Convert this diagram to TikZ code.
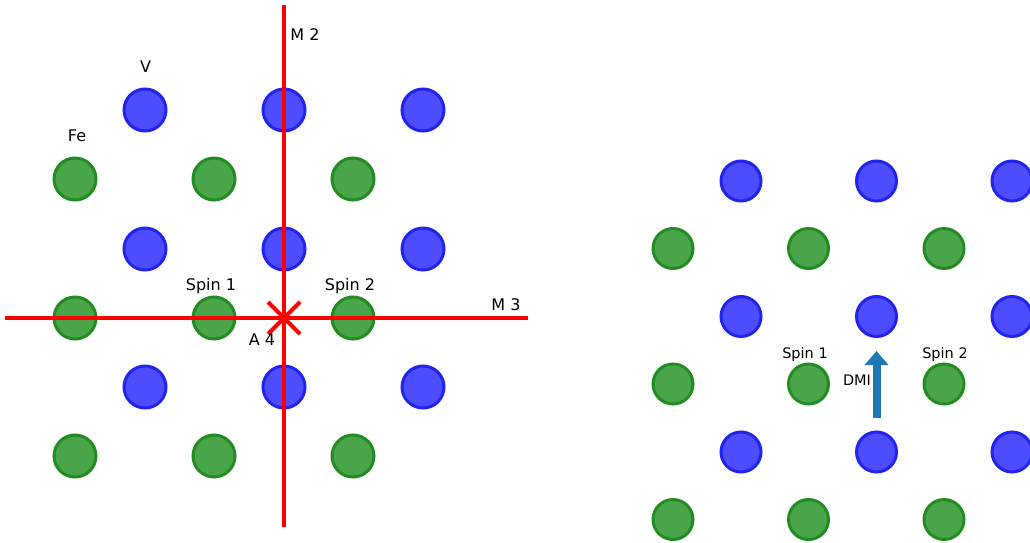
\documentclass[tikz,border=0pt]{standalone}
\usepackage{fontspec}
\setmainfont{DejaVu Sans}
\usetikzlibrary{arrows.meta}
\definecolor{vfill}{RGB}{77,77,255}
\definecolor{vedge}{RGB}{35,35,240}
\definecolor{ffill}{RGB}{74,165,74}
\definecolor{fedge}{RGB}{34,139,34}
\definecolor{dmiblue}{RGB}{31,119,180}
\tikzset{
  vatomL/.style={circle, draw=vedge, fill=vfill, line width=3pt, minimum size=42pt, inner sep=0pt},
  featomL/.style={circle, draw=fedge, fill=ffill, line width=3pt, minimum size=42pt, inner sep=0pt},
  vatomR/.style={circle, draw=vedge, fill=vfill, line width=3pt, minimum size=40pt, inner sep=0pt},
  featomR/.style={circle, draw=fedge, fill=ffill, line width=3pt, minimum size=40pt, inner sep=0pt},
  mirror/.style={draw=red, line width=4pt},
  lblL/.style={font=\fontsize{16pt}{18pt}\selectfont, anchor=base, inner sep=0pt},
  lblR/.style={font=\fontsize{14.5pt}{17pt}\selectfont, anchor=base, inner sep=0pt},
  dmiarrow/.style={draw=dmiblue, line width=8pt, -{Triangle[width=23pt,length=14pt]}}
}
\begin{document}
\begin{tikzpicture}[x=1pt,y=-1pt]
\useasboundingbox (0,0) rectangle (1030,543);
% ---- left panel ----
\foreach \i/\x in {1/75,2/214,3/353}{
  \foreach \j/\y in {1/179,2/318,3/456}{
    \node[featomL] (fl\i\j) at (\x,\y) {};
  }
}
\foreach \i/\x in {1/145,2/284,3/423}{
  \foreach \j/\y in {1/110,2/249,3/387}{
    \node[vatomL] (vl\i\j) at (\x,\y) {};
  }
}
\coordinate (m2top) at (284,5);
\coordinate (m2bot) at (284,527);
\coordinate (m3l) at (5,318);
\coordinate (m3r) at (528,318);
\coordinate (c4) at (284,318);
\draw[mirror] (m2top) -- (m2bot);
\draw[mirror] (m3l) -- (m3r);
\draw[mirror] ([shift={(-16,-16)}]c4) -- ([shift={(16,16)}]c4);
\draw[mirror] ([shift={(16,-16)}]c4) -- ([shift={(-16,16)}]c4);
\node[lblL] (lm2) at (305,41) {M 2};
\node[lblL] (lv) at (145.5,73) {V};
\node[lblL] (lfe) at (77,141) {Fe};
\node[lblL] (ls1) at (211,290.5) {Spin 1};
\node[lblL] (ls2) at (350,290.5) {Spin 2};
\node[lblL] (lm3) at (506,310) {M 3};
\node[lblL] (la4) at (262,345) {A 4};
% ---- right panel ----
\foreach \i/\x in {1/673,2/808.5,3/944}{
  \foreach \j/\y in {1/248.5,2/384,3/519.5}{
    \node[featomR] (fr\i\j) at (\x,\y) {};
  }
}
\foreach \i/\x in {1/741,2/876.5,3/1012}{
  \foreach \j/\y in {1/181,2/316.5,3/452}{
    \node[vatomR] (vr\i\j) at (\x,\y) {};
  }
}
\coordinate (dmis) at (876.5,418);
\coordinate (dmie) at (876.5,351);
\draw[dmiarrow] (dmis) -- (dmie);
\node[lblR] (rs1) at (805,358) {Spin 1};
\node[lblR] (rs2) at (945,358) {Spin 2};
\node[lblR] (rdmi) at (857,385) {DMI};
\end{tikzpicture}
\end{document}
